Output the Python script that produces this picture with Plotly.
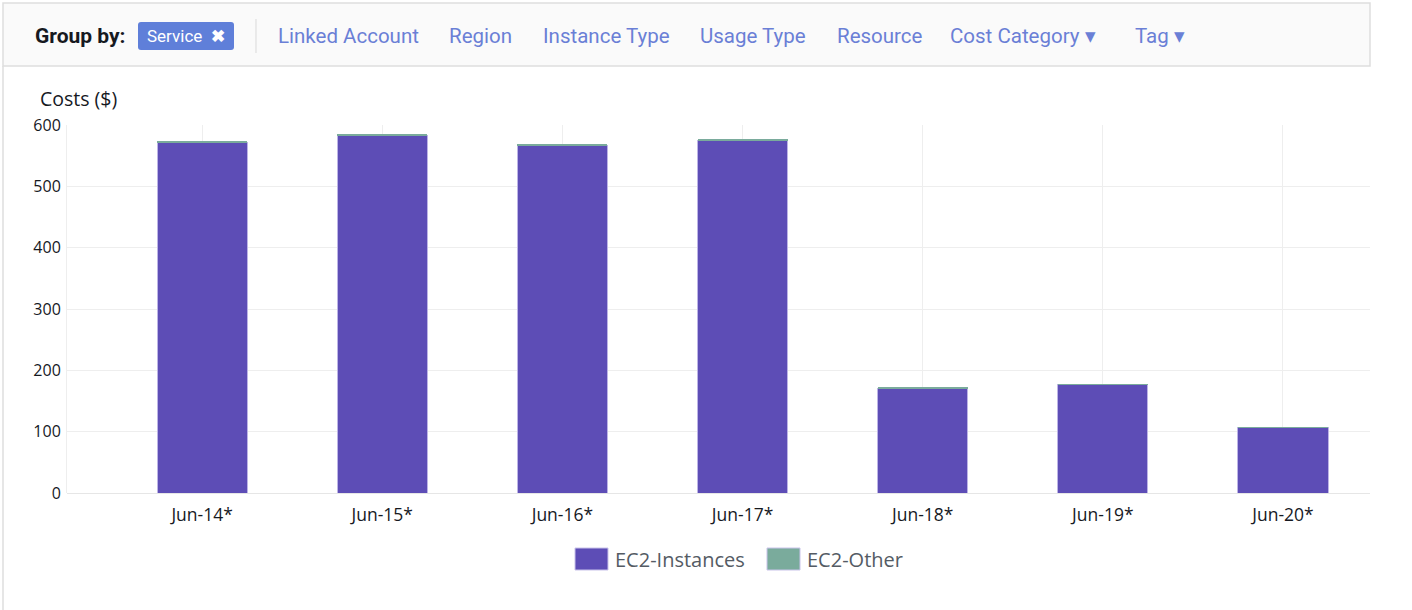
import plotly.graph_objects as go

# ---- data ----
categories = ["Jun-14*", "Jun-15*", "Jun-16*", "Jun-17*", "Jun-18*", "Jun-19*", "Jun-20*"]
ec2_instances = [571.0, 583.0, 567.0, 574.0, 170.0, 177.2, 106.6]
ec2_other = [1.8, 1.7, 1.5, 1.6, 2.0, 0.3, 0.2]
series_names = ["EC2-Instances", "EC2-Other"]
series_colors = ["#5d4db6", "#7aab9c"]
y_ticks = [0, 100, 200, 300, 400, 500, 600]
group_links = ["Linked Account", "Region", "Instance Type", "Usage Type", "Resource",
               "Cost Category \u25BE", "Tag \u25BE"]

W, H = 1412, 610


def px(x):
    return x / W


def py(y):
    return 1 - y / H


xs = list(range(len(categories)))

fig = go.Figure()
fig.add_trace(go.Bar(x=xs, y=ec2_instances, name=series_names[0], width=0.5,
                     marker=dict(color=series_colors[0], line=dict(color="#bdb4e6", width=1)),
                     showlegend=False))
fig.add_trace(go.Bar(x=xs, y=ec2_other, name=series_names[1], width=0.5,
                     marker=dict(color=series_colors[1], line=dict(width=0)),
                     showlegend=False))

shapes = []
annotations = []

# header bar
shapes.append(dict(type="rect", xref="paper", yref="paper", x0=px(3), x1=px(1370), y0=py(66), y1=py(3),
                   fillcolor="#fafafa", line=dict(color="#dedede", width=1.5), layer="below"))
# card left border
shapes.append(dict(type="line", xref="paper", yref="paper", x0=px(3), x1=px(3), y0=py(66), y1=py(610),
                   line=dict(color="#dedede", width=1.5)))
# separator
shapes.append(dict(type="line", xref="paper", yref="paper", x0=px(256), x1=px(256), y0=py(19), y1=py(53),
                   line=dict(color="#d9d9d9", width=1)))
# service pill (rounded)
x0, x1, y0, y1, r = 138, 234, 22, 50, 3
path = (f"M{px(x0 + r)},{py(y0)} L{px(x1 - r)},{py(y0)} Q{px(x1)},{py(y0)} {px(x1)},{py(y0 + r)} "
        f"L{px(x1)},{py(y1 - r)} Q{px(x1)},{py(y1)} {px(x1 - r)},{py(y1)} "
        f"L{px(x0 + r)},{py(y1)} Q{px(x0)},{py(y1)} {px(x0)},{py(y1 - r)} "
        f"L{px(x0)},{py(y0 + r)} Q{px(x0)},{py(y0)} {px(x0 + r)},{py(y0)} Z")
shapes.append(dict(type="path", xref="paper", yref="paper", path=path,
                   fillcolor="#5f7fd9", line=dict(width=0)))

hfont = "Roboto"
annotations.append(dict(text="<b>Group by:</b>", x=px(33), y=py(36), xref="paper", yref="paper",
                        xanchor="left", yanchor="middle", showarrow=False,
                        font=dict(family=hfont, size=21, color="#16191f")))
annotations.append(dict(text="Service  <b>\u2716</b>", x=px(145), y=py(36), xref="paper", yref="paper",
                        xanchor="left", yanchor="middle", showarrow=False,
                        font=dict(family=hfont, size=17, color="#ffffff")))
link_x = [276, 447, 541, 698, 835, 948, 1133]
for t, lx in zip(group_links, link_x):
    annotations.append(dict(text=t, x=px(lx), y=py(36), xref="paper", yref="paper",
                            xanchor="left", yanchor="middle", showarrow=False,
                            font=dict(family=hfont, size=20.5, color="#6a7fd6")))

# axis title
annotations.append(dict(text="Costs ($)", x=px(38), y=py(98), xref="paper", yref="paper",
                        xanchor="left", yanchor="middle", showarrow=False,
                        font=dict(family="Open Sans", size=19.5, color="#16191f")))

# custom legend
leg = [(575, 608, 613), (767, 800, 805)]
for (sx0, sx1, tx), name, col in zip(leg, series_names, series_colors):
    shapes.append(dict(type="rect", xref="paper", yref="paper", x0=px(sx0), x1=px(sx1),
                       y0=py(570), y1=py(548), fillcolor=col, line=dict(color="#c9c3ea", width=1)))
    annotations.append(dict(text=name, x=px(tx), y=py(559), xref="paper", yref="paper",
                            xanchor="left", yanchor="middle", showarrow=False,
                            font=dict(family="Open Sans", size=20, color="#545b64")))

fig.update_layout(
    width=W, height=H, autosize=False,
    margin=dict(l=0, r=0, t=0, b=0, pad=0, autoexpand=False),
    paper_bgcolor="#ffffff", plot_bgcolor="#ffffff",
    barmode="stack",
    showlegend=False,
    shapes=shapes,
    annotations=annotations,
    font=dict(family="Open Sans", color="#16191f"),
    xaxis=dict(domain=[px(67), px(1370)], range=[-0.75, 6.483],
               tickmode="array", tickvals=xs, ticktext=categories,
               showgrid=True, gridcolor="#eeeeee", gridwidth=1,
               zeroline=False, showline=False, automargin=False,
               ticks="outside", ticklen=6, tickcolor="rgba(0,0,0,0)",
               tickfont=dict(family="Open Sans", size=17.5, color="#16191f")),
    yaxis=dict(domain=[py(493), py(125)], range=[0, 600],
               tickmode="array", tickvals=y_ticks, automargin=False,
               showgrid=True, gridcolor="#eeeeee", gridwidth=1,
               zeroline=True, zerolinecolor="#e6e6e6", zerolinewidth=1,
               showline=True, linecolor="#eeeeee", linewidth=1,
               ticks="outside", ticklen=2, tickcolor="rgba(0,0,0,0)",
               tickfont=dict(family="Open Sans", size=16, color="#16191f")),
)

fig.write_html("out.html", config={"displayModeBar": False},
               post_script="document.body.style.margin='0';document.body.style.overflow='hidden';")
